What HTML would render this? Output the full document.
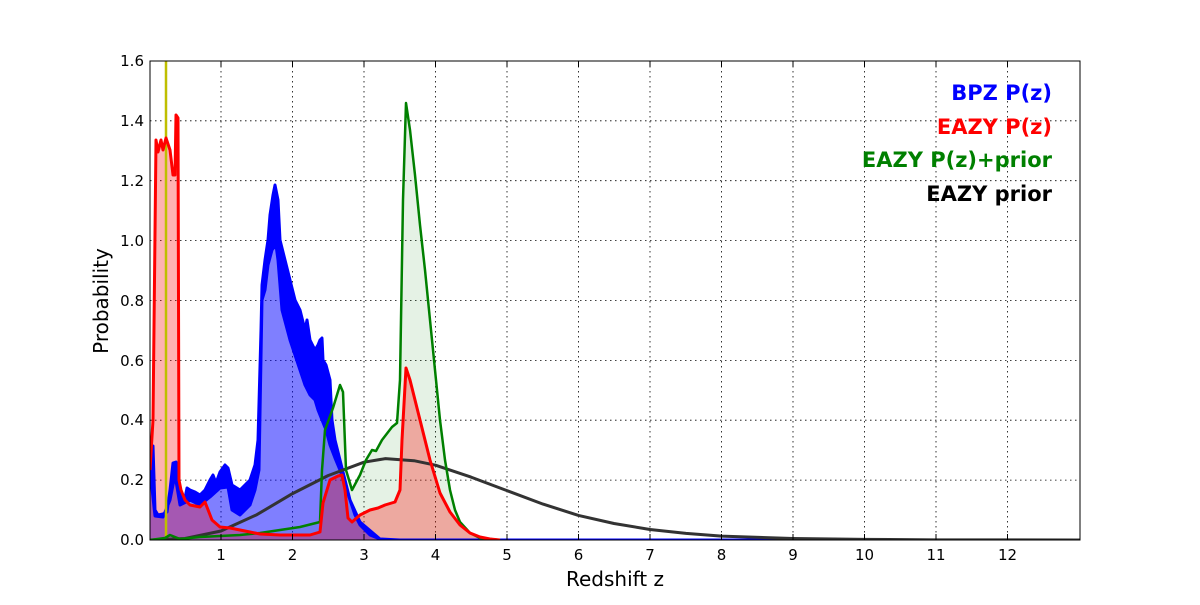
<!DOCTYPE html>
<html><head><meta charset="utf-8"><style>
body{margin:0;background:#fff;}
svg text{font-family:"DejaVu Sans","Liberation Sans",sans-serif;}
</style></head><body>
<svg width="1200" height="600" xmlns="http://www.w3.org/2000/svg">
<rect width="1200" height="600" fill="#fff"/>
<g stroke="#000" stroke-width="0.8" stroke-dasharray="1.5,3.5" fill="none">
<line x1="221" y1="61" x2="221" y2="540"/><line x1="292.5" y1="61" x2="292.5" y2="540"/><line x1="364" y1="61" x2="364" y2="540"/><line x1="435.5" y1="61" x2="435.5" y2="540"/><line x1="507" y1="61" x2="507" y2="540"/><line x1="578.5" y1="61" x2="578.5" y2="540"/><line x1="650" y1="61" x2="650" y2="540"/><line x1="721.5" y1="61" x2="721.5" y2="540"/><line x1="793" y1="61" x2="793" y2="540"/><line x1="864.5" y1="61" x2="864.5" y2="540"/><line x1="936" y1="61" x2="936" y2="540"/><line x1="1007.5" y1="61" x2="1007.5" y2="540"/>
<line x1="150" y1="480.1" x2="1080" y2="480.1"/><line x1="150" y1="420.2" x2="1080" y2="420.2"/><line x1="150" y1="360.4" x2="1080" y2="360.4"/><line x1="150" y1="300.5" x2="1080" y2="300.5"/><line x1="150" y1="240.6" x2="1080" y2="240.6"/><line x1="150" y1="180.7" x2="1080" y2="180.7"/><line x1="150" y1="120.8" x2="1080" y2="120.8"/>
</g>
<defs><clipPath id="c"><rect x="150" y="61" width="930" height="479"/></clipPath></defs>
<g clip-path="url(#c)">
<polygon fill="rgba(0,128,0,0.1)" points="150,540 165,538 170,535 175,537 180,539 200,537 240,535 260,533 300,527 320,522 322,470 325,430 333,408 340,385 343,392 346,470 352,490 360,475 366,460 372,450 376,451 382,440 392,427 397,423 400,380 403,200 406,103 410,130 415,175 420,225 425,270 430,320 435,370 440,420 445,460 450,490 455,510 460,522 470,533 480,538 500,540"/>
<polygon fill="rgba(0,0,255,0.5)" points="150,540 150,470 155,516 163,517 170,500 175,475 180,505 190,500 200,505 210,497 220,488 228,487 232,510 240,515 250,505 255,490 259,470 262,300 265,290 268,265 272,250 276,245 278,260 282,310 290,340 295,355 300,370 305,385 310,395 315,400 318,410 322,420 326,430 330,445 335,458 340,470 350,500 360,522 380,539 400,540"/>
<polygon fill="rgba(255,0,0,0.3)" points="150,540 150,470 153,420 156,140 158,152 161,140 163,150 166,138 170,150 173,175 175,175 176,115 178,118 179,480 181,490 185,500 190,505 200,507 205,502 212,520 220,527 230,528 240,530 250,532 260,534 280,535 310,535 320,532 323,503 330,480 338,476 342,475 345,490 348,518 352,522 360,515 370,510 378,508 385,505 395,502 400,490 402,440 406,368 410,380 420,420 430,460 440,493 450,512 460,525 470,533 480,537 490,539 500,540"/>
<polygon fill="#0000ff" stroke="#0000ff" stroke-width="3" stroke-linejoin="round" points="150,446 153,446 155,510 158,515 163,514 167,512 170,490 173,463 176,462 179,490 182,500 185,498 187,488 190,490 195,492 200,495 205,490 210,480 213,475 216,483 220,472 225,465 228,468 232,485 240,490 250,480 255,465 258,440 261,330 262,285 265,260 268,240 270,215 273,195 275,185 278,200 280,240 285,260 290,280 295,300 300,310 305,330 307,320 310,340 315,350 318,345 320,340 322,338 323,360 326,365 330,380 332,420 335,440 340,460 345,480 350,500 355,515 360,525 370,535 380,539 400,540 380,539 360,522 350,500 340,470 335,458 330,445 326,430 322,420 318,410 315,400 310,395 305,385 300,370 295,355 290,340 282,310 278,260 276,245 272,250 268,265 265,290 262,300 259,470 255,490 250,505 240,515 232,510 228,487 220,488 210,497 200,505 190,500 180,505 175,475 170,500 163,517 155,516 150,470"/>
<line x1="400" y1="540" x2="1080" y2="540" stroke="#0000ff" stroke-width="3"/>
<line x1="166" y1="61" x2="166" y2="540" stroke="#bfbf00" stroke-width="2.5"/>
<polyline fill="none" stroke="#333" stroke-width="3" stroke-linejoin="round" points="149.5,540 185,538.5 221,531 257,514.6 292.5,493.6 328,475.6 364,462.2 385.5,458.6 414,460.7 435.5,465.2 471,477.1 507,490.6 543,504.1 578.5,515.4 614,523.5 650,529.5 686,533.4 721.5,536.1 793,538.5 864.5,539.4 936,539.85 1080,540"/>
<polyline fill="none" stroke="#008000" stroke-width="2.5" stroke-linejoin="round" points="150,540 165,538 170,535 175,537 180,539 200,537 240,535 260,533 300,527 320,522 322,470 325,430 333,408 340,385 343,392 346,470 352,490 360,475 366,460 372,450 376,451 382,440 392,427 397,423 400,380 403,200 406,103 410,130 415,175 420,225 425,270 430,320 435,370 440,420 445,460 450,490 455,510 460,522 470,533 480,538 500,540"/>
<polyline fill="none" stroke="#ff0000" stroke-width="3" stroke-linejoin="round" points="150,470 153,420 156,140 158,152 161,140 163,150 166,138 170,150 173,175 175,175 176,115 178,118 179,480 181,490 185,500 190,505 200,507 205,502 212,520 220,527 230,528 240,530 250,532 260,534 280,535 310,535 320,532 323,503 330,480 338,476 342,475 345,490 348,518 352,522 360,515 370,510 378,508 385,505 395,502 400,490 402,440 406,368 410,380 420,420 430,460 440,493 450,512 460,525 470,533 480,537 490,539 500,540"/>
</g>
<rect x="150" y="61" width="930" height="479" fill="none" stroke="#000" stroke-width="1"/>
<g stroke="#000" stroke-width="1">
<line x1="221" y1="540" x2="221" y2="534"/><line x1="292.5" y1="540" x2="292.5" y2="534"/><line x1="364" y1="540" x2="364" y2="534"/><line x1="435.5" y1="540" x2="435.5" y2="534"/><line x1="507" y1="540" x2="507" y2="534"/><line x1="578.5" y1="540" x2="578.5" y2="534"/><line x1="650" y1="540" x2="650" y2="534"/><line x1="721.5" y1="540" x2="721.5" y2="534"/><line x1="793" y1="540" x2="793" y2="534"/><line x1="864.5" y1="540" x2="864.5" y2="534"/><line x1="936" y1="540" x2="936" y2="534"/><line x1="1007.5" y1="540" x2="1007.5" y2="534"/>
<line x1="221" y1="61" x2="221" y2="67"/><line x1="292.5" y1="61" x2="292.5" y2="67"/><line x1="364" y1="61" x2="364" y2="67"/><line x1="435.5" y1="61" x2="435.5" y2="67"/><line x1="507" y1="61" x2="507" y2="67"/><line x1="578.5" y1="61" x2="578.5" y2="67"/><line x1="650" y1="61" x2="650" y2="67"/><line x1="721.5" y1="61" x2="721.5" y2="67"/><line x1="793" y1="61" x2="793" y2="67"/><line x1="864.5" y1="61" x2="864.5" y2="67"/><line x1="936" y1="61" x2="936" y2="67"/><line x1="1007.5" y1="61" x2="1007.5" y2="67"/>
</g>
<g font-size="15" fill="#000" text-anchor="middle">
<text x="221" y="560">1</text><text x="292.5" y="560">2</text><text x="364" y="560">3</text><text x="435.5" y="560">4</text><text x="507" y="560">5</text><text x="578.5" y="560">6</text><text x="650" y="560">7</text><text x="721.5" y="560">8</text><text x="793" y="560">9</text><text x="864.5" y="560">10</text><text x="936" y="560">11</text><text x="1007.5" y="560">12</text>
</g>
<g font-size="15" fill="#000" text-anchor="end">
<text x="144" y="545">0.0</text><text x="144" y="485">0.2</text><text x="144" y="425">0.4</text><text x="144" y="366">0.6</text><text x="144" y="306">0.8</text><text x="144" y="246">1.0</text><text x="144" y="186">1.2</text><text x="144" y="126">1.4</text><text x="144" y="66">1.6</text>
</g>
<text x="615" y="586" font-size="20" text-anchor="middle">Redshift z</text>
<text x="108" y="301" font-size="20" text-anchor="middle" transform="rotate(-90 108 301)">Probability</text>
<g font-size="21" font-weight="bold" text-anchor="end">
<text x="1052" y="100" fill="#0000ff">BPZ P(z)</text>
<text x="1052" y="134" fill="#ff0000">EAZY P(z)</text>
<text x="1052" y="167" fill="#008000">EAZY P(z)+prior</text>
<text x="1052" y="201" fill="#000">EAZY prior</text>
</g>
</svg>
</body></html>
